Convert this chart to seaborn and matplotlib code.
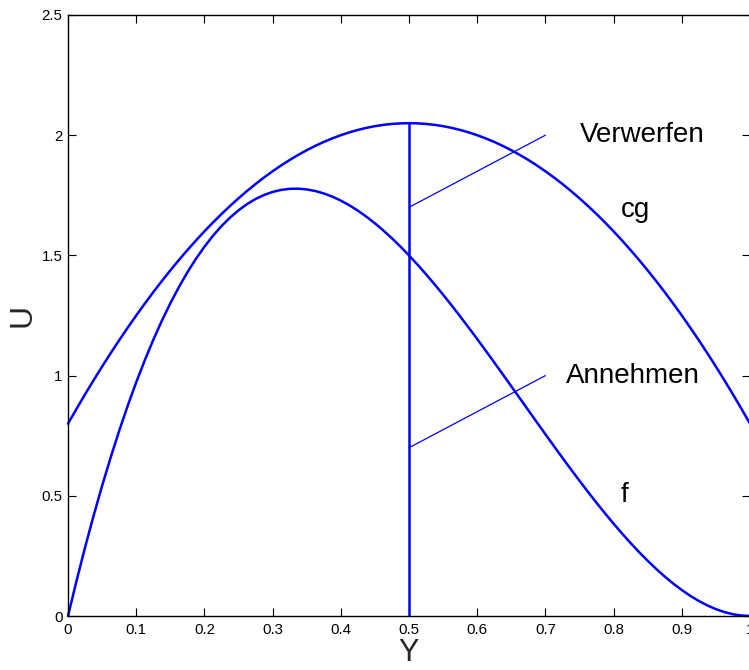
import matplotlib
matplotlib.use("Agg")
import matplotlib.pyplot as plt
import seaborn as sns
import pandas as pd

# Sample points of the two curves (step 0.0125)
y_vals = [0.0, 0.0125, 0.025, 0.0375, 0.05, 0.0625, 0.075, 0.0875, 0.1, 0.1125,
          0.125, 0.1375, 0.15, 0.1625, 0.175, 0.1875, 0.2, 0.2125, 0.225, 0.2375,
          0.25, 0.2625, 0.275, 0.2875, 0.3, 0.3125, 0.325, 0.3375, 0.35, 0.3625,
          0.375, 0.3875, 0.4, 0.4125, 0.425, 0.4375, 0.45, 0.4625, 0.475, 0.4875,
          0.5, 0.5125, 0.525, 0.5375, 0.55, 0.5625, 0.575, 0.5875, 0.6, 0.6125,
          0.625, 0.6375, 0.65, 0.6625, 0.675, 0.6875, 0.7, 0.7125, 0.725, 0.7375,
          0.75, 0.7625, 0.775, 0.7875, 0.8, 0.8125, 0.825, 0.8375, 0.85, 0.8625,
          0.875, 0.8875, 0.9, 0.9125, 0.925, 0.9375, 0.95, 0.9625, 0.975, 0.9875,
          1.0]
f_vals = [0.0, 0.1463, 0.2852, 0.4169, 0.5415, 0.6592, 0.7701, 0.8743, 0.972, 1.0633,
          1.1484, 1.2275, 1.3005, 1.3677, 1.4293, 1.4854, 1.536, 1.5814, 1.6217, 1.6570,
          1.6875, 1.7133, 1.7346, 1.7514, 1.764, 1.7725, 1.7769, 1.7776, 1.7745, 1.7679,
          1.7578, 1.7445, 1.728, 1.7085, 1.6862, 1.6611, 1.6335, 1.6034, 1.5711, 1.5365,
          1.5, 1.4616, 1.4214, 1.3797, 1.3365, 1.2920, 1.2463, 1.1996, 1.152, 1.1037,
          1.0547, 1.0053, 0.9555, 0.9056, 0.8556, 0.8057, 0.756, 0.7067, 0.6579, 0.6098,
          0.5625, 0.5161, 0.4708, 0.4267, 0.384, 0.3428, 0.3032, 0.2654, 0.2295, 0.1957,
          0.1641, 0.1348, 0.108, 0.0838, 0.0624, 0.0440, 0.0285, 0.0162, 0.0073, 0.0019,
          0.0]
cg_vals = [0.8, 0.8617, 0.9219, 0.9805, 1.0375, 1.0930, 1.1469, 1.1992, 1.25, 1.2992,
           1.3469, 1.3930, 1.4375, 1.4805, 1.5219, 1.5617, 1.6, 1.6367, 1.6719, 1.7055,
           1.7375, 1.7680, 1.7969, 1.8242, 1.85, 1.8742, 1.8969, 1.9180, 1.9375, 1.9555,
           1.9719, 1.9867, 2.0, 2.0117, 2.0219, 2.0305, 2.0375, 2.0430, 2.0469, 2.0492,
           2.05, 2.0492, 2.0469, 2.0430, 2.0375, 2.0305, 2.0219, 2.0117, 2.0, 1.9867,
           1.9719, 1.9555, 1.9375, 1.9180, 1.8969, 1.8742, 1.85, 1.8242, 1.7969, 1.7680,
           1.7375, 1.7055, 1.6719, 1.6367, 1.6, 1.5617, 1.5219, 1.4805, 1.4375, 1.3930,
           1.3469, 1.2992, 1.25, 1.1992, 1.1469, 1.0930, 1.0375, 0.9805, 0.9219, 0.8617,
           0.8]

# Decision threshold and its vertical marker
threshold = 0.5
threshold_top = 2.05

# Pointer lines (start and end) and their labels
pointer_x = [0.5, 0.7]
verwerfen_y = [1.7, 2.0]
annehmen_y = [0.7, 1.0]
labels = ["Verwerfen", "Annehmen", "cg", "f"]
label_pos = [(0.751, 2.0), (0.730, 1.0), (0.810, 1.69), (0.810, 0.505)]

x_ticks = [0, 0.1, 0.2, 0.3, 0.4, 0.5, 0.6, 0.7, 0.8, 0.9, 1]
x_tick_labels = ["0", "0.1", "0.2", "0.3", "0.4", "0.5", "0.6", "0.7", "0.8", "0.9", "1"]
y_ticks = [0, 0.5, 1, 1.5, 2, 2.5]
y_tick_labels = ["0", "0.5", "1", "1.5", "2", "2.5"]

sns.set_style("ticks")
plt.rcParams["font.family"] = ["Liberation Sans", "DejaVu Sans"]

df = pd.DataFrame({"Y": y_vals, "f": f_vals, "cg": cg_vals})

fig = plt.figure(figsize=(7.49, 6.70), dpi=100)
ax = fig.add_axes([68 / 749, 54 / 670, 682 / 749, 601 / 670])

blue = "#0000ff"
sns.lineplot(data=df, x="Y", y="cg", ax=ax, color=blue, linewidth=1.8, clip_on=False)
sns.lineplot(data=df, x="Y", y="f", ax=ax, color=blue, linewidth=1.8, clip_on=False)
ax.plot([threshold, threshold], [0, threshold_top], color=blue, linewidth=1.8)
ax.plot(pointer_x, verwerfen_y, color=blue, linewidth=0.9)
ax.plot(pointer_x, annehmen_y, color=blue, linewidth=0.9)

for txt, (tx, ty) in zip(labels, label_pos):
    ax.text(tx, ty, txt, fontsize=20, ha="left", va="center", color="black")

ax.set_xlim(0, 1)
ax.set_ylim(0, 2.5)
ax.set_xticks(x_ticks)
ax.set_xticklabels(x_tick_labels)
ax.set_yticks(y_ticks)
ax.set_yticklabels(y_tick_labels)
ax.tick_params(direction="in", length=6, width=0.8, labelsize=10.8,
               top=True, right=True, color="black", labelcolor="black")
ax.tick_params(axis="x", pad=5)
ax.tick_params(axis="y", pad=4)
for sp in ax.spines.values():
    sp.set_visible(True)
    sp.set_color("black")
    sp.set_linewidth(1.0)

ax.set_xlabel("Y", fontsize=22, labelpad=1)
ax.set_ylabel("U", fontsize=23, labelpad=3)

fig.savefig("out.png", dpi=100)
